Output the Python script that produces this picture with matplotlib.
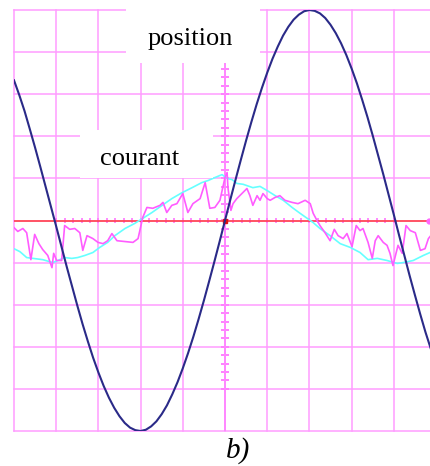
import matplotlib.pyplot as plt
import numpy as np
from matplotlib.patches import Rectangle

# screen units = oscilloscope divisions, centre of the screen at (0, 0)

# position trace, sampled every 1/8 division
pos_t = np.arange(-5.0, 5.001, 0.125)
pos_v = [3.33, 2.98, 2.60, 2.17, 1.73, 1.27, 0.80, 0.33, -0.14, -0.62,
         -1.10, -1.56, -2.02, -2.46, -2.87, -3.26, -3.61, -3.93, -4.21, -4.45,
         -4.65, -4.81, -4.92, -4.98, -5.00, -4.97, -4.89, -4.77, -4.60, -4.39,
         -4.13, -3.84, -3.51, -3.15, -2.76, -2.34, -1.90, -1.44, -0.97, -0.49,
         0.00,
         0.49, 0.97, 1.44, 1.90, 2.34, 2.76, 3.15, 3.51, 3.84, 4.13,
         4.39, 4.60, 4.77, 4.89, 4.97, 5.00, 4.98, 4.92, 4.81, 4.65,
         4.45, 4.21, 3.93, 3.61, 3.26, 2.87, 2.46, 2.02, 1.56, 1.10,
         0.62, 0.14, -0.35, -0.83, -1.31, -1.77, -2.22, -2.65, -3.04, -3.41]

# courant, filtered (cyan)
filt_t = [-5.00, -4.86, -4.70, -4.55, -4.32, -4.08, -3.96, -3.80, -3.63, -3.49,
          -3.32, -3.13, -2.97, -2.78, -2.61, -2.37, -2.14, -1.95, -1.73, -1.49,
          -1.26, -1.02, -0.78, -0.55, -0.40, -0.24, -0.07, 0.05, 0.17, 0.28,
          0.43, 0.66, 0.83, 1.00, 1.19, 1.38, 1.59, 1.78, 1.95, 2.09,
          2.25, 2.49, 2.73, 2.97, 3.20, 3.39, 3.61, 3.84, 4.08, 4.22,
          4.46, 4.70, 4.86]
filt_v = [-0.67, -0.74, -0.88, -0.90, -0.93, -1.00, -0.95, -0.88, -0.90, -0.88,
          -0.83, -0.76, -0.64, -0.52, -0.36, -0.19, -0.07, 0.05, 0.19, 0.36,
          0.52, 0.66, 0.78, 0.90, 0.95, 1.02, 1.09, 1.00, 0.97, 0.88,
          0.86, 0.78, 0.81, 0.71, 0.59, 0.48, 0.31, 0.17, 0.05, -0.05,
          -0.19, -0.36, -0.55, -0.64, -0.76, -0.93, -0.90, -0.95, -1.02, -1.00,
          -0.95, -0.83, -0.76]

# courant, raw (magenta)
raw_t = [-5.00, -4.91, -4.79, -4.70, -4.60, -4.51, -4.41, -4.32, -4.20, -4.10,
         -4.06, -3.99, -3.87, -3.80, -3.68, -3.56, -3.44, -3.37, -3.27, -3.13,
         -3.01, -2.89, -2.78, -2.68, -2.56, -2.37, -2.18, -2.06, -1.95, -1.85,
         -1.71, -1.54, -1.47, -1.38, -1.26, -1.14, -1.00, -0.88, -0.76, -0.59,
         -0.47, -0.36, -0.24, -0.12, 0.00, 0.05, 0.07, 0.14, 0.19, 0.28,
         0.40, 0.52, 0.59, 0.66, 0.76, 0.83, 0.90, 1.00, 1.07, 1.19,
         1.30, 1.42, 1.59, 1.73, 1.90, 2.02, 2.09, 2.18, 2.25, 2.37,
         2.49, 2.59, 2.68, 2.80, 2.89, 3.01, 3.11, 3.20, 3.27, 3.39,
         3.49, 3.56, 3.63, 3.75, 3.84, 3.91, 3.98, 4.10, 4.20, 4.29,
         4.39, 4.51, 4.63, 4.74, 4.82, 4.86]
raw_v = [-0.17, -0.26, -0.19, -0.29, -0.93, -0.33, -0.55, -0.69, -0.83, -1.12,
         -0.78, -0.95, -0.95, -0.12, -0.21, -0.19, -0.29, -0.71, -0.36, -0.43,
         -0.52, -0.55, -0.48, -0.31, -0.48, -0.50, -0.52, -0.43, 0.07, 0.31,
         0.29, 0.36, 0.43, 0.19, 0.36, 0.40, 0.64, 0.19, 0.40, 0.52,
         0.90, 0.29, 0.31, 0.48, 1.02, 1.14, 0.78, 0.24, 0.40, 0.52,
         0.64, 0.76, 0.59, 0.36, 0.59, 0.48, 0.64, 0.52, 0.48, 0.55,
         0.59, 0.48, 0.43, 0.40, 0.48, 0.40, 0.17, 0.00, -0.12, -0.29,
         -0.48, -0.21, -0.36, -0.43, -0.31, -0.62, -0.12, -0.24, -0.19, -0.52,
         -0.90, -0.48, -0.36, -0.52, -0.59, -0.78, -1.07, -0.59, -0.78, -0.12,
         -0.24, -0.29, -0.71, -0.67, -0.43, -0.38]

GRID = '#ff9cff'

fig = plt.figure(figsize=(4.30, 4.66), dpi=100)
# the screen is a bit wider than the picture: last column is cut on the right
ax = fig.add_axes([14 / 430, 35 / 466, 422 / 430, 421 / 466])
ax.set_xlim(-5, 5)
ax.set_ylim(-5, 5)
ax.axis('off')

for k in range(-5, 6):
    ax.axvline(k, color=GRID, lw=1.1, zorder=1, clip_on=False)
    ax.axhline(k, color=GRID, lw=1.1, zorder=1, clip_on=False)

# graduated centre axes
ticks = np.arange(-4.0, 4.01, 0.2)
ax.vlines(ticks, -0.07, 0.07, color='#ff80ff', lw=1.3, zorder=2)
ax.hlines(ticks, -0.09, 0.09, color='#ff80ff', lw=1.4, zorder=2)
ax.axvline(0, color='#ff88ff', lw=1.4, zorder=2)
ax.plot([-5, 4.84], [0, 0], color='#ff3a3a', lw=1.1, zorder=3)
ax.plot([4.84], [0], 'o', ms=3.5, color='#ff66ff', zorder=3)
ax.plot([0], [0], 's', ms=3, color='#e01010', zorder=3)

ax.plot(filt_t, filt_v, color='#66ffff', lw=1.2, zorder=4)
ax.plot(raw_t, raw_v, color='#ff5cff', lw=1.2, zorder=5)
ax.plot(pos_t, pos_v, color='#2a2a88', lw=1.5, zorder=6)

# white label boxes hide the graticule
ax.add_patch(Rectangle((-2.35, 3.75), 3.18, 1.6, facecolor='white',
                       edgecolor='none', zorder=7, clip_on=False))
ax.add_patch(Rectangle((-3.44, 1.02), 3.16, 1.12, facecolor='white',
                       edgecolor='none', zorder=7))

ax.text(-0.83, 4.16, 'position', ha='center', va='baseline',
        family='Liberation Serif', fontsize=19, zorder=8)
ax.text(-2.02, 1.31, 'courant', ha='center', va='baseline',
        family='Liberation Serif', fontsize=19, zorder=8)

fig.text(238 / 430, 8 / 466, 'b)', ha='center', va='baseline',
         family='Liberation Serif', style='italic', fontsize=21)

fig.savefig('out.png', dpi=100)
